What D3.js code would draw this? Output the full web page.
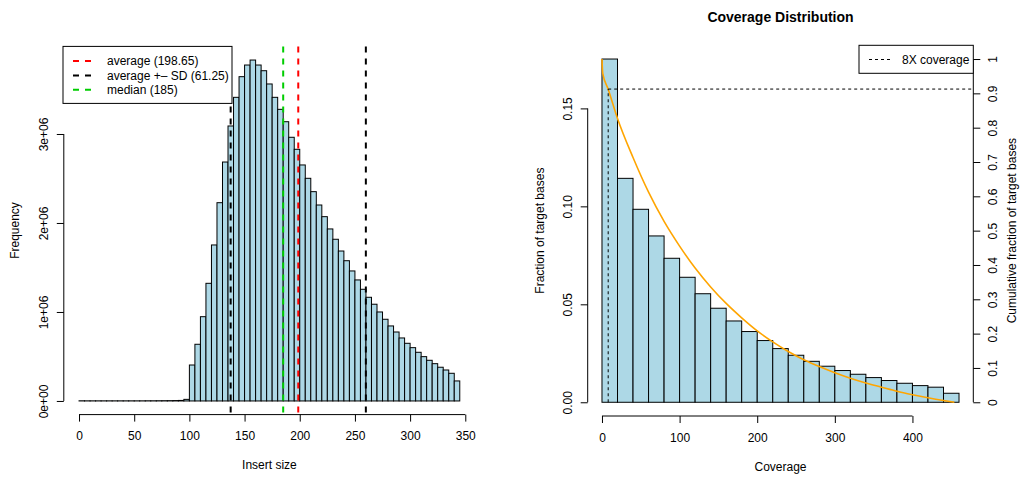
<!DOCTYPE html>
<html>
<head>
<meta charset="utf-8">
<script src="https://cdn.jsdelivr.net/npm/d3@7"></script>
<style>
  body { margin: 0; background: #fff; }
  svg text { font-family: "Liberation Sans", Arial, Helvetica, sans-serif; font-size: 12px; fill: #000; }
</style>
</head>
<body>
<svg id="chart" width="1021" height="477"></svg>
<script>
// ---- Insert size histogram (bin width 5, first bin starts at 0) ----
const insertBinWidth = 5;
const insertCounts = [
  2000, 1500, 1500, 1500, 1500, 1500, 1500, 1500, 1500, 1500,
  1500, 1500, 2000, 2000, 2500, 3000, 3500, 4500, 6000, 18000,
  404000, 637000, 947000, 1322000, 1753000, 2228000, 2685000, 3090000, 3412000, 3644000,
  3775000, 3831000, 3775000, 3711000, 3562000, 3412000, 3277000, 3138000, 2963000, 2828000,
  2652000, 2502000, 2352000, 2202000, 2071000, 1933000, 1817000, 1685000, 1576000, 1461000,
  1360000, 1255000, 1165000, 1087000, 1000000, 918000, 843000, 775000, 708000, 648000,
  599000, 547000, 498000, 457000, 419000, 379000, 348000, 311000, 225000
];
const insertXTicks = [0, 50, 100, 150, 200, 250, 300, 350];
const insertYTicks = [0, 1e6, 2e6, 3e6];
const insertYTickLabels = ["0e+00", "1e+06", "2e+06", "3e+06"];
const insertMean = 198.65;
const insertSD = 61.25;
const insertMedian = 185;
const insertLegendLabels = ["average (198.65)", "average +\u2013 SD (61.25)", "median (185)"];
const insertLegendColors = ["#ff0000", "#000000", "#00cd00"];

// ---- Coverage histogram (bin width 20) and cumulative curve ----
const coverageBinWidth = 20;
const coverageFractions = [
  0.1752, 0.1143, 0.0985, 0.0849, 0.0735, 0.0638, 0.0554, 0.0480, 0.0415, 0.0361,
  0.0315, 0.0274, 0.0240, 0.0209, 0.0184, 0.0162, 0.0143, 0.0126, 0.0111, 0.0097,
  0.0085, 0.0077, 0.0046
];
const coverageXTicks = [0, 100, 200, 300, 400];
const coverageYTicks = [0, 0.05, 0.10, 0.15];
const coverageYTickLabels = ["0.00", "0.05", "0.10", "0.15"];
const cumulativeCoverage = [0, 1, 8, 20, 40, 60, 80, 100, 120, 140, 160, 180, 200, 220, 240, 260, 280, 300, 320, 340, 360, 380, 400, 420, 440, 454];
const cumulativeFraction = [1.0, 0.958, 0.912, 0.827, 0.713, 0.612, 0.527, 0.455, 0.391, 0.336, 0.288, 0.246, 0.208, 0.176, 0.148, 0.124, 0.104, 0.086, 0.070, 0.056, 0.044, 0.032, 0.022, 0.013, 0.005, 0.0];
const cumulativeTicks = [0, 0.1, 0.2, 0.3, 0.4, 0.5, 0.6, 0.7, 0.8, 0.9, 1];
const cumulativeTickLabels = ["0", "0.1", "0.2", "0.3", "0.4", "0.5", "0.6", "0.7", "0.8", "0.9", "1"];
const targetCoverage = 8;
const fractionAtTarget = 0.9125;

const svg = d3.select("#chart");
const FILL = "#add8e6";

// R-style range padding (4% each side)
function padded(lo, hi) { const d = (hi - lo) * 0.04; return [lo - d, hi + d]; }

// Rotated (reading upward) tick labels, offset from the axis line
function rotateLabels(g, offset) {
  g.selectAll(".tick text")
    .attr("transform", "rotate(-90)")
    .attr("x", 0).attr("y", offset).attr("dy", null)
    .attr("text-anchor", "middle");
}

// ================= Left panel: insert size =================
{
  const P = { left: 63.8, right: 475.0, top: 46.4, bottom: 414.6 };
  const nBins = insertCounts.length;
  const maxCount = d3.max(insertCounts);
  const x = d3.scaleLinear().domain(padded(0, nBins * insertBinWidth)).range([P.left, P.right]);
  const y = d3.scaleLinear().domain(padded(0, maxCount)).range([P.bottom, P.top]);
  const g = svg.append("g");

  g.selectAll("rect.bar").data(insertCounts).join("rect")
    .attr("class", "bar")
    .attr("x", (d, i) => x(i * insertBinWidth))
    .attr("width", (d, i) => x((i + 1) * insertBinWidth) - x(i * insertBinWidth))
    .attr("y", d => y(d))
    .attr("height", d => y(0) - y(d))
    .attr("fill", FILL).attr("stroke", "#000").attr("stroke-width", 1);

  // x axis
  const xa = g.append("g").attr("transform", `translate(0,${P.bottom})`)
    .call(d3.axisBottom(x).tickValues(insertXTicks).tickSize(7).tickSizeOuter(0).tickPadding(10).tickFormat(d3.format("d")));
  xa.select(".domain").attr("d", `M${x(insertXTicks[0])},0H${x(insertXTicks[insertXTicks.length - 1])}`);
  xa.selectAll("text").attr("font-size", 12).attr("font-family", null);

  // y axis
  const ya = g.append("g").attr("transform", `translate(${P.left},0)`)
    .call(d3.axisLeft(y).tickValues(insertYTicks).tickSize(7).tickSizeOuter(0).tickFormat((d, i) => insertYTickLabels[i]));
  ya.select(".domain").attr("d", `M0,${y(insertYTicks[0])}V${y(insertYTicks[insertYTicks.length - 1])}`);
  ya.selectAll("text").attr("font-size", 12).attr("font-family", null);
  rotateLabels(ya, -16);

  // reference lines: mean, mean ± SD, median
  const vlines = [
    { v: insertMean, c: insertLegendColors[0] },
    { v: insertMean - insertSD, c: insertLegendColors[1] },
    { v: insertMean + insertSD, c: insertLegendColors[1] },
    { v: insertMedian, c: insertLegendColors[2] }
  ];
  g.selectAll("line.ref").data(vlines).join("line")
    .attr("class", "ref")
    .attr("x1", d => x(d.v)).attr("x2", d => x(d.v))
    .attr("y1", P.top).attr("y2", P.bottom)
    .attr("stroke", d => d.c).attr("stroke-width", 2).attr("stroke-dasharray", "6,6");

  // legend
  const lg = g.append("g");
  lg.append("rect").attr("x", 63).attr("y", 46.4).attr("width", 169).attr("height", 57)
    .attr("fill", "#fff").attr("stroke", "#000");
  insertLegendLabels.forEach((t, i) => {
    const cy = 61 + i * 14.4;
    lg.append("line").attr("x1", 73).attr("x2", 92).attr("y1", cy).attr("y2", cy)
      .attr("stroke", insertLegendColors[i]).attr("stroke-width", 2).attr("stroke-dasharray", "6,6");
    lg.append("text").attr("x", 107).attr("y", cy).attr("dy", "0.35em").text(t);
  });

  // axis titles
  g.append("text").attr("x", (P.left + P.right) / 2).attr("y", 469).attr("text-anchor", "middle").text("Insert size");
  g.append("text").attr("transform", `translate(15,${(P.top + P.bottom) / 2}) rotate(-90)`)
    .attr("text-anchor", "middle").attr("dy", "0.35em").text("Frequency");
}

// ================= Right panel: coverage distribution =================
{
  const P = { left: 587.7, right: 973.3, top: 45.3, bottom: 416.0 };
  const nBins = coverageFractions.length;
  const maxFrac = d3.max(coverageFractions);
  const x = d3.scaleLinear().domain(padded(0, nBins * coverageBinWidth)).range([P.left, P.right]);
  const y = d3.scaleLinear().domain(padded(0, maxFrac)).range([P.bottom, P.top]);
  // cumulative fraction shares the plot: 1 maps to the tallest bar
  const yc = d3.scaleLinear().domain([y.domain()[0] / maxFrac, y.domain()[1] / maxFrac]).range([P.bottom, P.top]);
  const g = svg.append("g");

  g.selectAll("rect.bar").data(coverageFractions).join("rect")
    .attr("class", "bar")
    .attr("x", (d, i) => x(i * coverageBinWidth))
    .attr("width", (d, i) => x((i + 1) * coverageBinWidth) - x(i * coverageBinWidth))
    .attr("y", d => y(d))
    .attr("height", d => y(0) - y(d))
    .attr("fill", FILL).attr("stroke", "#000").attr("stroke-width", 1);

  // cumulative curve
  const pts = cumulativeCoverage.map((c, i) => [c, cumulativeFraction[i]]);
  g.append("path").datum(pts)
    .attr("d", d3.line().x(d => x(d[0])).y(d => yc(d[1])).curve(d3.curveMonotoneX))
    .attr("fill", "none").attr("stroke", "#ffa500").attr("stroke-width", 1.6);

  // target coverage guide lines
  g.append("line").attr("x1", x(targetCoverage)).attr("x2", x(targetCoverage))
    .attr("y1", yc(0)).attr("y2", yc(fractionAtTarget))
    .attr("stroke", "#000").attr("stroke-dasharray", "3,3");
  g.append("line").attr("x1", x(targetCoverage)).attr("x2", P.right)
    .attr("y1", yc(fractionAtTarget)).attr("y2", yc(fractionAtTarget))
    .attr("stroke", "#000").attr("stroke-dasharray", "3,3");

  // x axis
  const xa = g.append("g").attr("transform", `translate(0,${P.bottom})`)
    .call(d3.axisBottom(x).tickValues(coverageXTicks).tickSize(7).tickSizeOuter(0).tickPadding(10).tickFormat(d3.format("d")));
  xa.select(".domain").attr("d", `M${x(coverageXTicks[0])},0H${x(coverageXTicks[coverageXTicks.length - 1])}`);
  xa.selectAll("text").attr("font-size", 12).attr("font-family", null);

  // left y axis
  const ya = g.append("g").attr("transform", `translate(${P.left},0)`)
    .call(d3.axisLeft(y).tickValues(coverageYTicks).tickSize(7).tickSizeOuter(0).tickFormat((d, i) => coverageYTickLabels[i]));
  ya.select(".domain").attr("d", `M0,${y(coverageYTicks[0])}V${y(coverageYTicks[coverageYTicks.length - 1])}`);
  ya.selectAll("text").attr("font-size", 12).attr("font-family", null);
  rotateLabels(ya, -15.5);

  // right y axis (cumulative)
  const yr = g.append("g").attr("transform", `translate(${P.right},0)`)
    .call(d3.axisRight(yc).tickValues(cumulativeTicks).tickSize(7).tickSizeOuter(0).tickFormat((d, i) => cumulativeTickLabels[i]));
  yr.select(".domain").attr("d", `M0,${yc(0)}V${yc(1)}`);
  yr.selectAll("text").attr("font-size", 12).attr("font-family", null);
  rotateLabels(yr, 24);

  // legend
  const lg = g.append("g");
  lg.append("rect").attr("x", 859).attr("y", P.top).attr("width", P.right - 859).attr("height", 28)
    .attr("fill", "#fff").attr("stroke", "#000");
  lg.append("line").attr("x1", 869).attr("x2", 891).attr("y1", 59.5).attr("y2", 59.5)
    .attr("stroke", "#000").attr("stroke-dasharray", "3,3");
  lg.append("text").attr("x", 902).attr("y", 59.5).attr("dy", "0.35em").text("8X coverage");

  // titles
  const cx = (P.left + P.right) / 2;
  g.append("text").attr("x", cx).attr("y", 22).attr("text-anchor", "middle")
    .style("font-weight", "bold").style("font-size", "14px").text("Coverage Distribution");
  g.append("text").attr("x", cx).attr("y", 471).attr("text-anchor", "middle").text("Coverage");
  g.append("text").attr("transform", `translate(540,${(P.top + P.bottom) / 2}) rotate(-90)`)
    .attr("text-anchor", "middle").attr("dy", "0.35em").text("Fraction of target bases");
  g.append("text").attr("transform", `translate(1011.5,${(P.top + P.bottom) / 2}) rotate(-90)`)
    .attr("text-anchor", "middle").attr("dy", "0.35em").text("Cumulative fraction of target bases");
}
</script>
</body>
</html>
